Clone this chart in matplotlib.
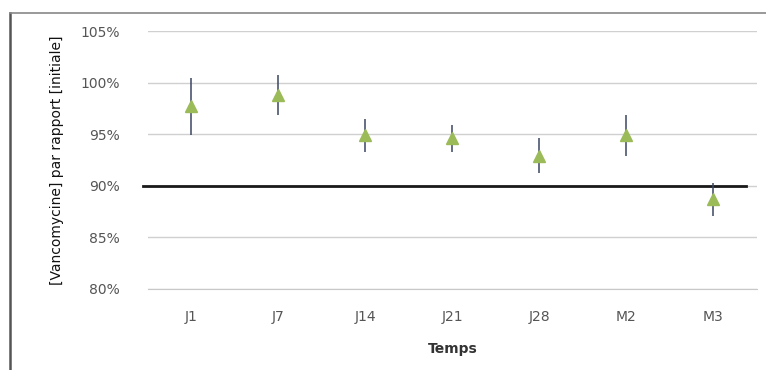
import matplotlib.pyplot as plt
from matplotlib.lines import Line2D
from matplotlib.ticker import PercentFormatter

# data
temps = ['J1', 'J7', 'J14', 'J21', 'J28', 'M2', 'M3']
moyenne = [97.7, 98.8, 94.9, 94.6, 92.9, 94.9, 88.7]
ecart = [2.8, 1.9, 1.6, 1.3, 1.7, 2.0, 1.6]
seuil = 90
yticks = [80, 85, 90, 95, 100, 105]

fig = plt.figure(figsize=(7.66, 3.70), dpi=100)
ax = fig.add_axes([0.193, 0.219, 0.795, 0.697])

x = list(range(len(temps)))
ax.errorbar(x, moyenne, yerr=ecart, fmt='none', ecolor='#3a4660',
            elinewidth=1.1, capsize=0, zorder=3)
ax.plot(x, moyenne, linestyle='none', marker='^', markersize=9,
        color='#9bbb59', markeredgecolor='#9bbb59', zorder=4)

# 90% threshold
ax.axhline(seuil, xmin=-0.008, xmax=0.982, color='#1a1a1a', linewidth=2,
           clip_on=False, zorder=2)

ax.set_xlim(-0.5, len(temps) - 0.5)
ax.set_ylim(80, 105)
ax.set_yticks(yticks)
ax.yaxis.set_major_formatter(PercentFormatter(decimals=0))
ax.set_xticks(x)
ax.set_xticklabels(temps)
ax.grid(axis='y', color='#d0d0d0', linewidth=1)
ax.set_axisbelow(True)
for s in ['top', 'right', 'left']:
    ax.spines[s].set_visible(False)
ax.spines['bottom'].set_color('#c8c8c8')
ax.tick_params(axis='both', length=0, labelsize=10, labelcolor='#555555')
ax.tick_params(axis='y', pad=20)
ax.tick_params(axis='x', pad=15)

ax.set_xlabel('Temps', fontsize=10, fontweight='bold', color='#333333', labelpad=13)
ax.set_ylabel('[Vancomycine] par rapport [initiale]', fontsize=10,
              family=['Liberation Sans Narrow', 'DejaVu Sans'], color='#111111',
              labelpad=12)

# outer chart frame (left and top)
fig.add_artist(Line2D([10 / 766, 10 / 766], [0, 1 - 13 / 370],
                      transform=fig.transFigure, color='#555555', linewidth=1.8))
fig.add_artist(Line2D([10 / 766, 1], [1 - 13 / 370, 1 - 13 / 370],
                      transform=fig.transFigure, color='#888888', linewidth=1.2))

fig.savefig('out.png', dpi=100)
